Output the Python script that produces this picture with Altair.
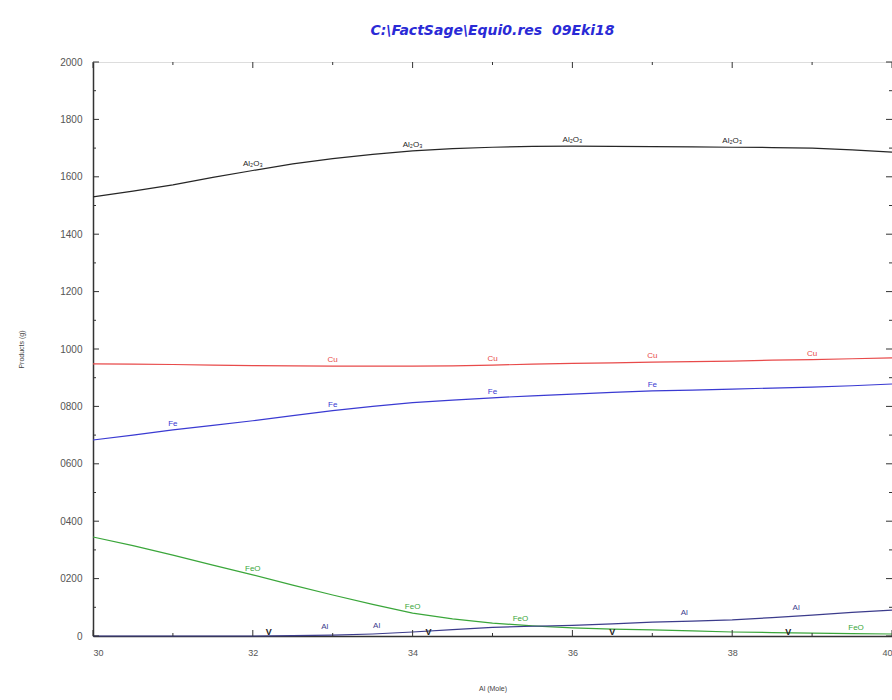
import altair as alt
import pandas as pd
import numpy as np

al_mole = [30, 30.5, 31, 31.5, 32, 32.5, 33, 33.5, 34, 34.5, 35, 35.5, 36, 36.5, 37, 37.5, 38, 38.5, 39, 39.5, 40]
al2o3 = [1530, 1550, 1572, 1598, 1622, 1645, 1663, 1678, 1690, 1698, 1703, 1706, 1707, 1706, 1705, 1704, 1703, 1702, 1700, 1694, 1686]
cu = [948, 947, 946, 944, 942, 941, 940, 940, 940, 941, 944, 947, 950, 952, 954, 956, 958, 961, 963, 966, 969]
fe = [683, 700, 718, 734, 750, 768, 785, 800, 813, 822, 830, 837, 843, 849, 854, 857, 860, 864, 867, 872, 878]
feo = [345, 315, 282, 247, 213, 177, 143, 110, 80, 60, 45, 35, 28, 24, 21, 18, 14, 12, 10, 8, 7]
al = [0, 0, 0, 0, 0, 1, 3, 7, 14, 22, 30, 34, 37, 42, 48, 52, 56, 64, 73, 82, 90]

series = ["Al2O3", "Cu", "Fe", "FeO", "Al"]
colors = ["#262626", "#e84a4a", "#3a3ad2", "#3aa63a", "#3c3c8c"]
values = [al2o3, cu, fe, feo, al]

label_text = {"Al2O3": "Al₂O₃", "Cu": "Cu", "Fe": "Fe", "FeO": "FeO", "Al": "Al"}
label_x = {
    "Al2O3": [32, 34, 36, 38],
    "Cu": [33, 35, 37, 39],
    "Fe": [31, 33, 35, 37],
    "FeO": [32, 34, 35.35, 39.55],
    "Al": [32.9, 33.55, 37.4, 38.8],
}
v_label_x = [32.2, 34.2, 36.5, 38.7]

y_major = list(range(0, 2001, 200))
y_minor = list(range(100, 2000, 200))
x_major = [30, 32, 34, 36, 38, 40]
x_minor = [31, 33, 35, 37, 39]

rows = []
for name, vals in zip(series, values):
    for xv, yv in zip(al_mole, vals):
        rows.append({"x": xv, "y": yv, "s": name})
df = pd.DataFrame(rows)

lab_rows = []
for name, vals in zip(series, values):
    for xv in label_x[name]:
        lab_rows.append({"x": xv, "y": float(np.interp(xv, al_mole, vals)), "s": name, "t": label_text[name]})
labs = pd.DataFrame(lab_rows)
main_labs = labs[labs.s != "Al"]
al_labs = labs[labs.s == "Al"]
v_labs = pd.DataFrame({"x": v_label_x, "y": [0] * len(v_label_x), "t": ["V"] * len(v_label_x)})

W, H = 799, 574
xs = alt.Scale(domain=[30, 40], nice=False, zero=False)
ys = alt.Scale(domain=[0, 2000], nice=False)
cs = alt.Scale(domain=series, range=colors)

xaxis = alt.Axis(values=x_major, format="d", ticks=False, grid=False, labelFontSize=9, labelColor="#555",
                 labelPadding=12, title="Al (Mole)", titleFontSize=7, titleFontWeight="normal",
                 titleColor="#444", titlePadding=27, domainColor="#333", domainWidth=1.5, labelFont="Liberation Sans",
                 titleFont="Liberation Sans")
yaxis = alt.Axis(values=y_major, ticks=False, grid=False, labelFontSize=10, labelColor="#555", labelPadding=11,
                 labelExpr="datum.value == 0 ? '0' : (datum.value < 1000 ? '0' + datum.value : '' + datum.value)",
                 title="Products (g)", titleFontSize=7, titleFontWeight="normal", titleColor="#444",
                 titlePadding=35, domainColor="#333", domainWidth=1.5, labelFont="Liberation Sans",
                 titleFont="Liberation Sans")

lines = alt.Chart(df).mark_line(strokeWidth=1.2).encode(
    x=alt.X("x:Q", scale=xs, axis=xaxis),
    y=alt.Y("y:Q", scale=ys, axis=yaxis),
    color=alt.Color("s:N", scale=cs, legend=None),
)

text_main = alt.Chart(main_labs).mark_text(fontSize=8, baseline="bottom", dy=-2, font="Liberation Sans").encode(
    x="x:Q", y="y:Q", text="t:N", color=alt.Color("s:N", scale=cs, legend=None))
text_al = alt.Chart(al_labs).mark_text(fontSize=8, baseline="bottom", dy=-4, font="Liberation Sans").encode(
    x="x:Q", y="y:Q", text="t:N", color=alt.Color("s:N", scale=cs, legend=None))
text_v = alt.Chart(v_labs).mark_text(fontSize=9, baseline="bottom", dy=1, fontWeight="bold", color="#222",
                                     font="Liberation Sans").encode(x="x:Q", y="y:Q", text="t:N")

ymaj = pd.DataFrame({"v": y_major})
ymin = pd.DataFrame({"v": y_minor})
xmaj = pd.DataFrame({"v": x_major})
xmin = pd.DataFrame({"v": x_minor})

def yt(d, a, b):
    return alt.Chart(d).mark_rule(color="#333", strokeWidth=1).encode(
        y=alt.Y("v:Q", scale=ys), x=alt.value(a), x2=alt.value(b))

def xt(d, a, b):
    return alt.Chart(d).mark_rule(color="#333", strokeWidth=1).encode(
        x=alt.X("v:Q", scale=xs), y=alt.value(a), y2=alt.value(b))

ticks = [
    yt(ymaj, 0, 6), yt(ymin, 0, 3), yt(ymaj, W - 6, W), yt(ymin, W - 3, W),
    xt(xmaj, H, H - 6), xt(xmin, H, H - 3), xt(xmaj, 0, 6), xt(xmin, 0, 3),
]

chart = alt.layer(lines, text_main, text_al, text_v, *ticks).properties(
    width=W, height=H,
    autosize=alt.AutoSizeParams(type="none"),
    padding={"left": 93, "top": 62, "right": 0, "bottom": 64},
    title=alt.TitleParams("C:\\FactSage\\Equi0.res\u00a0\u00a009Eki18", color="#2a2ad6", fontStyle="italic",
                          fontWeight="bold", fontSize=14, font="DejaVu Sans", offset=19, anchor="middle"),
).configure_view(stroke="#333", strokeWidth=1.5).configure(background="white")

chart.save("out.html", embed_options={"renderer": "svg", "actions": False})
